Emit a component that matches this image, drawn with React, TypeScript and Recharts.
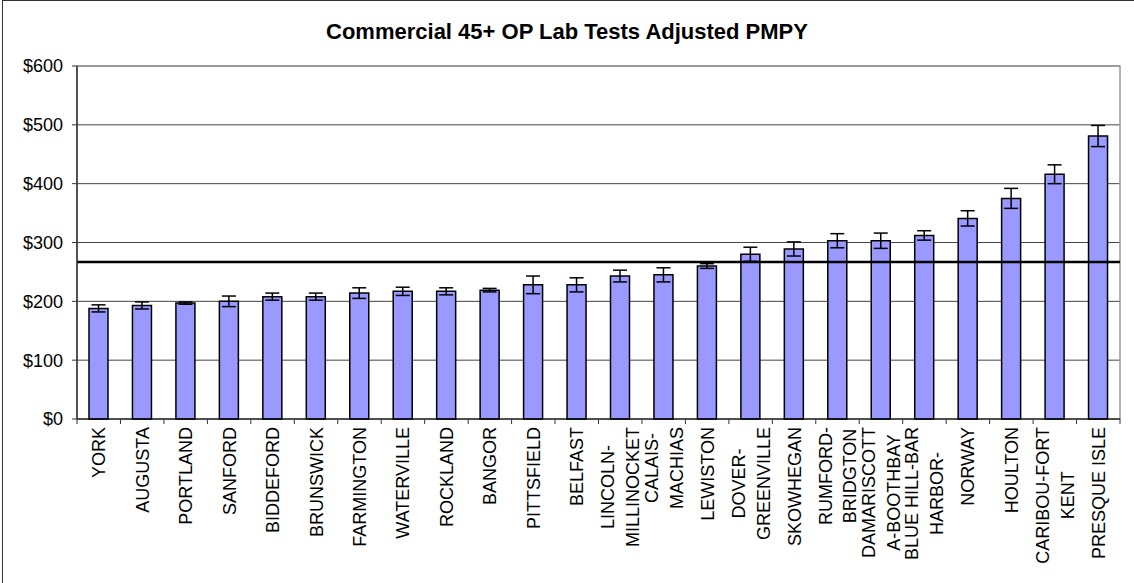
import {
  BarChart,
  Bar,
  XAxis,
  YAxis,
  CartesianGrid,
  ErrorBar,
  ReferenceLine,
  ReferenceArea,
} from "recharts";

// service areas, sorted by adjusted PMPY
const categories = [
  "YORK",
  "AUGUSTA",
  "PORTLAND",
  "SANFORD",
  "BIDDEFORD",
  "BRUNSWICK",
  "FARMINGTON",
  "WATERVILLE",
  "ROCKLAND",
  "BANGOR",
  "PITTSFIELD",
  "BELFAST",
  "LINCOLN-\nMILLINOCKET",
  "CALAIS-\nMACHIAS",
  "LEWISTON",
  "DOVER-\nGREENVILLE",
  "SKOWHEGAN",
  "RUMFORD-\nBRIDGTON",
  "DAMARISCOTT\nA-BOOTHBAY",
  "BLUE HILL-BAR\nHARBOR-",
  "NORWAY",
  "HOULTON",
  "CARIBOU-FORT\nKENT",
  "PRESQUE ISLE",
];

const pmpy = [
  188, 193, 197, 200, 208, 208, 214, 217, 217, 219, 228, 228, 243, 245, 260,
  280, 289, 303, 303, 312, 341, 375, 416, 481,
];

// half-width of the confidence interval
const ci = [6, 6, 2, 9, 6, 6, 9, 7, 6, 3, 15, 12, 10, 12, 4, 12, 12, 12, 13, 8, 13, 17, 16, 18];

const yTicks = [0, 100, 200, 300, 400, 500, 600];
const stateAverage = 267;

const data = categories.map((name, i) => ({ name, value: pmpy[i], err: ci[i] }));

const W = 1134;
const H = 583;
const MARGIN = { top: 66, right: 14, left: 0, bottom: 0 };
const Y_AXIS_W = 77;
const X_AXIS_H = 164;
const BAND = (W - MARGIN.left - MARGIN.right - Y_AXIS_W) / categories.length;
const FONT = "Arial, 'Liberation Sans', sans-serif";
const LABEL_SIZE = 18;
const TICK = 5;
const TICK_GAP = 3;

let ctx: CanvasRenderingContext2D | null = null;
function textWidth(s: string) {
  if (!ctx) ctx = document.createElement("canvas").getContext("2d");
  if (!ctx) return s.length * LABEL_SIZE * 0.65;
  ctx.font = `${LABEL_SIZE}px Arial, "Liberation Sans"`;
  return ctx.measureText(s).width;
}

function CategoryTick(props: any) {
  const { x, y, payload, index } = props;
  const lines = String(payload.value).split("\n");
  const maxW = Math.max(...lines.map(textWidth));
  const axisY = y - TICK - TICK_GAP;
  const top = y;
  return (
    <g>
      <line x1={x + BAND / 2} x2={x + BAND / 2} y1={axisY} y2={axisY + TICK} stroke="#333" />
      {index === 0 && (
        <line x1={x - BAND / 2} x2={x - BAND / 2} y1={axisY} y2={axisY + TICK} stroke="#333" />
      )}
      <g transform={`translate(${x},${top}) rotate(-90)`}>
        {lines.map((line, i) => (
          <text
            key={i}
            x={-maxW / 2}
            y={(i - (lines.length - 1) / 2) * 25 + LABEL_SIZE * 0.36}
            textAnchor="middle"
            fontFamily={FONT}
            fontSize={LABEL_SIZE}
            fill="#000"
          >
            {line}
          </text>
        ))}
      </g>
    </g>
  );
}

export default function App() {
  return (
    <div style={{ position: "absolute", left: 0, top: 0, width: W, height: H, background: "#fff", overflow: "hidden" }}>
      <div
        style={{
          position: "absolute",
          left: 2,
          top: 0,
          width: W + 20,
          height: H + 20,
          borderTop: "1.5px solid #333",
          borderLeft: "1.5px solid #333",
        }}
      />
      <div
        style={{
          position: "absolute",
          left: 0,
          top: 21,
          width: W,
          textAlign: "center",
          fontFamily: FONT,
          fontWeight: "bold",
          fontSize: 22,
          lineHeight: "22px",
          color: "#000",
        }}
      >
        Commercial 45+ OP Lab Tests Adjusted PMPY
      </div>
      <div style={{ position: "absolute", left: 0, top: 0 }}>
        <BarChart width={W} height={H} data={data} margin={MARGIN} barSize={19}>
          <CartesianGrid vertical={false} stroke="#444" />
          <ReferenceArea y1={0} y2={600} fill="none" stroke="#999" strokeWidth={1.5} ifOverflow="visible" />
          <XAxis
            dataKey="name"
            interval={0}
            height={X_AXIS_H}
            tickLine={false}
            tickSize={TICK}
            tickMargin={TICK_GAP}
            axisLine={{ stroke: "#000" }}
            tick={<CategoryTick />}
          />
          <YAxis
            width={Y_AXIS_W}
            domain={[0, 600]}
            ticks={yTicks}
            tickFormatter={(v: number) => `$${v}`}
            tickSize={5}
            tickMargin={9}
            axisLine={{ stroke: "#333", strokeWidth: 1.5 }}
            tickLine={{ stroke: "#333" }}
            tick={{ fontFamily: FONT, fontSize: 18, fill: "#000" }}
          />
          <Bar dataKey="value" fill="#9999FF" stroke="#000" strokeWidth={1.5} isAnimationActive={false}>
            <ErrorBar dataKey="err" width={7} stroke="#000" strokeWidth={1.5} isAnimationActive={false} />
          </Bar>
          <ReferenceLine y={stateAverage} stroke="#000" strokeWidth={2.5} />
        </BarChart>
      </div>
    </div>
  );
}
